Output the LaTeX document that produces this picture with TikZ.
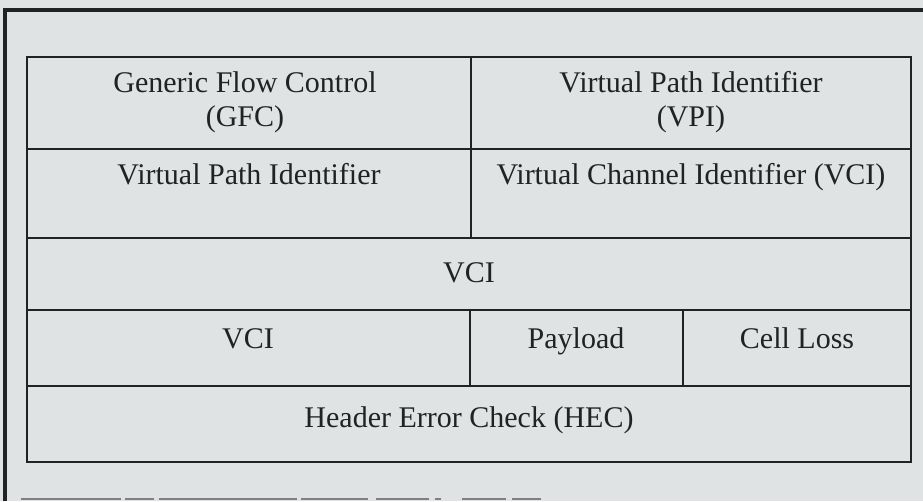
\documentclass[tikz,border=0pt]{standalone}
\usepackage{fontspec}
\setmainfont{Liberation Serif}
\usetikzlibrary{positioning}

\definecolor{scanbg}{RGB}{223,227,227}
\definecolor{ink}{RGB}{32,34,36}

\begin{document}
\begin{tikzpicture}[x=1pt,y=-1pt,
    cell/.style={anchor=base, inner sep=0pt, text=ink, font=\fontsize{30}{36}\selectfont},
    rule/.style={draw=ink, line width=1.8pt}]
	% Page, frame of the scan
	\useasboundingbox[fill=scanbg] (0,0) rectangle (923,501);
	\draw[ink, line width=4pt] (5,501) -- (5,10) -- (923,10);
	\foreach \a/\b in {21/121,125/154,159/297,301/368,376/429,435/441,462/506,512/541}
		{\draw[gray, line width=1.5pt] (\a,499) -- (\b,499);}

	% Cell grid
	\draw[rule] (27,57) rectangle (911,462);
	\foreach \y in {149,238,310,386}
		{\draw[rule] (27,\y) -- (911,\y);}
	\draw[rule] (471,57) -- (471,238);
	\draw[rule] (470,310) -- (470,386);
	\draw[rule] (683,310) -- (683,386);

	% Field names
	\node[cell] (gfc)  at (245,92)  {Generic Flow Control};
	\node[cell] (gfcb) at (245,126) {(GFC)};
	\node[cell] (vpi)  at (691,92)  {Virtual Path Identifier};
	\node[cell] (vpib) at (691,126) {(VPI)};
	\node[cell] (vpil) at (249,184) {Virtual Path Identifier};
	\node[cell] (vci)  at (691,184) {Virtual Channel Identifier (VCI)};
	\node[cell] (vcim) at (469,282) {VCI};
	\node[cell] (vcil) at (248,348) {VCI};
	\node[cell] (pay)  at (576,348) {Payload};
	\node[cell] (clp)  at (797,348) {Cell Loss};
	\node[cell] (hec)  at (469,427) {Header Error Check (HEC)};
\end{tikzpicture}
\end{document}
